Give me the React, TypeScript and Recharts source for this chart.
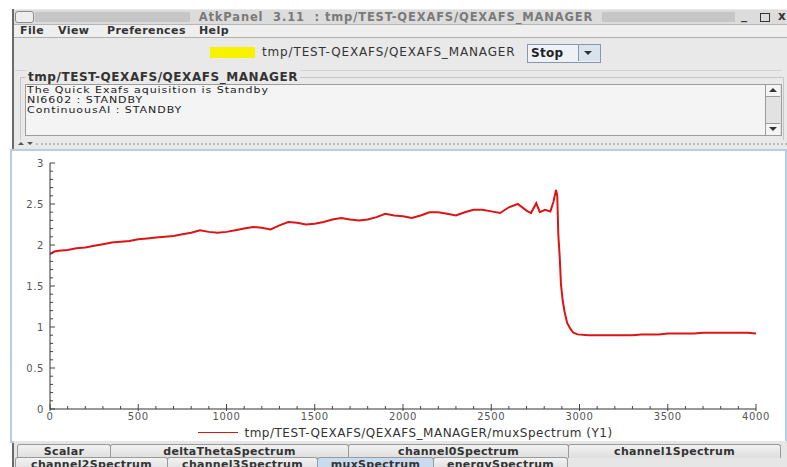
import { LineChart, Line, XAxis, YAxis, Legend } from "recharts";

// channel index along the spectrum (x) and the read-off muxSpectrum values (y)
const channels = [
  0, 25, 50, 100, 150, 200, 250, 300, 350, 400, 450,
  500, 550, 600, 650, 700, 750, 800, 850, 900, 950,
  1000, 1050, 1100, 1150, 1200, 1250, 1300, 1350, 1400, 1450,
  1500, 1550, 1600, 1650, 1700, 1750, 1800, 1850, 1900, 1950,
  2000, 2050, 2100, 2150, 2200, 2250, 2300, 2350, 2400, 2450,
  2500, 2550, 2600, 2650, 2700, 2725, 2755, 2775, 2805, 2835,
  2853, 2867, 2874, 2880, 2888, 2895, 2905, 2915, 2930, 2948,
  2965, 2990, 3050, 3100, 3150, 3200, 3250, 3300, 3350, 3400,
  3450, 3500, 3550, 3600, 3650, 3700, 3750, 3800, 3850, 3900,
  3950, 4000,
];

const muxSpectrum = [
  1.89, 1.92, 1.93, 1.94, 1.96, 1.97, 1.99, 2.01, 2.03, 2.04, 2.05,
  2.07, 2.08, 2.09, 2.1, 2.11, 2.13, 2.15, 2.18, 2.16, 2.15,
  2.16, 2.18, 2.2, 2.22, 2.21, 2.19, 2.24, 2.28, 2.27, 2.25,
  2.26, 2.28, 2.31, 2.33, 2.31, 2.3, 2.31, 2.34, 2.38, 2.36,
  2.35, 2.33, 2.36, 2.4, 2.4, 2.38, 2.36, 2.4, 2.43, 2.43,
  2.41, 2.39, 2.46, 2.5, 2.42, 2.39, 2.51, 2.4, 2.43, 2.41,
  2.53, 2.67, 2.6, 2.12, 1.85, 1.52, 1.32, 1.19, 1.05, 0.98,
  0.93, 0.91, 0.9, 0.9, 0.9, 0.9, 0.9, 0.9, 0.91, 0.91,
  0.91, 0.92, 0.92, 0.92, 0.92, 0.93, 0.93, 0.93, 0.93, 0.93,
  0.93, 0.92,
];

const xTicks = [
  0, 100, 200, 300, 400, 500, 600, 700, 800, 900, 1000, 1100, 1200, 1300,
  1400, 1500, 1600, 1700, 1800, 1900, 2000, 2100, 2200, 2300, 2400, 2500,
  2600, 2700, 2800, 2900, 3000, 3100, 3200, 3300, 3400, 3500, 3600, 3700,
  3800, 3900, 4000,
];

const yTicks = [
  0, 0.1, 0.2, 0.3, 0.4, 0.5, 0.6, 0.7, 0.8, 0.9, 1, 1.1, 1.2, 1.3, 1.4,
  1.5, 1.6, 1.7, 1.8, 1.9, 2, 2.1, 2.2, 2.3, 2.4, 2.5, 2.6, 2.7, 2.8, 2.9, 3,
];

const seriesName = "tmp/TEST-QEXAFS/QEXAFS_MANAGER/muxSpectrum (Y1)";
const deviceName = "tmp/TEST-QEXAFS/QEXAFS_MANAGER";
const statusLines = [
  "The Quick Exafs aquisition is Standby",
  "NI6602 : STANDBY",
  "ContinuousAI : STANDBY",
];

const tabsTop = [
  { label: "Scalar", left: 17, width: 93 },
  { label: "deltaThetaSpectrum", left: 110, width: 238 },
  { label: "channel0Spectrum", left: 348, width: 220 },
  { label: "channel1Spectrum", left: 568, width: 212 },
];
const tabsBottom = [
  { label: "channel2Spectrum", left: 15, width: 152 },
  { label: "channel3Spectrum", left: 167, width: 150 },
  { label: "muxSpectrum", left: 317, width: 116, active: true },
  { label: "energySpectrum", left: 433, width: 134 },
];

const data = channels.map((c, i) => ({ channel: c, mux: muxSpectrum[i] }));

const FONT = '"DejaVu Sans", sans-serif';
const isMajorX = (v: number) => v % 500 === 0;
const isMajorY = (v: number) => Math.abs(v * 2 - Math.round(v * 2)) < 1e-6;

function BottomTick(props: any) {
  const { x, y, payload } = props;
  const major = isMajorX(payload.value);
  return (
    <g>
      <line x1={x} x2={x} y1={y + (major ? 2 : 0)} y2={y - (major ? 5 : 3)} stroke="#444" />
      {major && (
        <text x={x} y={y + 11} textAnchor="middle" fontSize={10} fill="#555" fontFamily={FONT} letterSpacing={0.6}>
          {payload.value}
        </text>
      )}
    </g>
  );
}

function TopTick(props: any) {
  const { x, y, payload } = props;
  const major = isMajorX(payload.value);
  return <line x1={x} x2={x} y1={y} y2={y + (major ? 5 : 2)} stroke="#666" />;
}

function LeftTick(props: any) {
  const { x, y, payload } = props;
  const major = isMajorY(payload.value);
  return (
    <g>
      <line x1={x} x2={x + (major ? 5 : 3)} y1={y} y2={y} stroke="#444" />
      {major && (
        <text x={x - 6} y={y + 4} textAnchor="end" fontSize={10} fill="#555" fontFamily={FONT} letterSpacing={0.6}>
          {String(payload.value)}
        </text>
      )}
    </g>
  );
}

function RightTick(props: any) {
  const { x, y, payload } = props;
  const major = isMajorY(payload.value);
  return <line x1={x} x2={x - (major ? 5 : 2)} y1={y} y2={y} stroke="#666" />;
}

function LegendContent(props: any) {
  const item = props.payload?.[0];
  if (!item) return null;
  return (
    <div style={{ display: "flex", justifyContent: "center", alignItems: "center", height: 15, paddingLeft: 40 }}>
      <span style={{ width: 40, height: 1, background: item.color, marginRight: 6 }} />
      <span style={{ fontSize: 12, color: "#333", fontFamily: FONT, letterSpacing: 0.5 }}>{item.value}</span>
    </div>
  );
}

function Tab({ label, left, width, top, height, active }: any) {
  return (
    <div
      style={{
        position: "absolute",
        left,
        top,
        width: width - 1,
        height,
        background: active ? "#c9dbef" : "linear-gradient(#f2f2f2, #dedede)",
        border: "1px solid #9a9a9a",
        borderBottom: "none",
        borderRadius: "3px 3px 0 0",
        fontSize: 11,
        fontWeight: "bold",
        color: "#333",
        textAlign: "center",
        lineHeight: `${height}px`,
        letterSpacing: 0.3,
        overflow: "hidden",
      }}
    >
      {label}
    </div>
  );
}

export default function App() {
  return (
    <div
      style={{
        position: "absolute",
        left: 0,
        top: 0,
        width: 787,
        height: 467,
        background: "#fff",
        overflow: "hidden",
        fontFamily: FONT,
      }}
    >
      {/* window body */}
      <div style={{ position: "absolute", left: 12, top: 9, width: 775, height: 458, background: "#e9e9e9", borderLeft: "2px solid #6a6a6a" }} />

      {/* title bar */}
      <div style={{ position: "absolute", left: 14, top: 10, width: 773, height: 14, background: "#dcdcdc", borderBottom: "1px solid #b5b5b5" }} />
      <div style={{ position: "absolute", left: 15, top: 11, width: 17, height: 10, border: "1px solid #8c8c8c", borderRadius: 3, background: "#eee" }} />
      <div style={{ position: "absolute", left: 35, top: 12, width: 155, height: 10, background: "#c6c6c6" }} />
      <div style={{ position: "absolute", left: 602, top: 12, width: 133, height: 10, background: "#c6c6c6" }} />
      <div style={{ position: "absolute", left: 190, top: 10, width: 412, height: 14, lineHeight: "14px", textAlign: "center", fontSize: 11.5, fontWeight: "bold", color: "#7a7a7a", letterSpacing: 0.85, whiteSpace: "pre" }}>
        {"AtkPanel  3.11  : " + deviceName}
      </div>
      <div style={{ position: "absolute", left: 741, top: 8, fontSize: 12, fontWeight: "bold", color: "#333" }}>_</div>
      <div style={{ position: "absolute", left: 760, top: 13, width: 8, height: 7, border: "1.5px solid #333" }} />
      <div style={{ position: "absolute", left: 778, top: 9, fontSize: 12, fontWeight: "bold", color: "#333" }}>x</div>

      {/* menu bar */}
      <div style={{ position: "absolute", left: 14, top: 25, width: 773, height: 12, background: "#efefef", borderBottom: "1px solid #b0b0b0" }} />
      {[
        ["File", 20],
        ["View", 58],
        ["Preferences", 107],
        ["Help", 199],
      ].map(([t, l]) => (
        <div key={t as string} style={{ position: "absolute", left: l as number, top: 24, fontSize: 11, fontWeight: "bold", color: "#333", letterSpacing: 0.4, lineHeight: "13px" }}>
          {t}
        </div>
      ))}

      {/* toolbar */}
      <div style={{ position: "absolute", left: 210, top: 47, width: 45, height: 11, background: "#f7f200" }} />
      <div style={{ position: "absolute", left: 262, top: 45, fontSize: 12, color: "#333", letterSpacing: 0.85, lineHeight: "15px" }}>{deviceName}</div>
      <div style={{ position: "absolute", left: 527, top: 44, width: 72, height: 17, border: "1px solid #8797ad", background: "#eef2f7" }} />
      <div style={{ position: "absolute", left: 531, top: 45, fontSize: 12, fontWeight: "bold", color: "#222", lineHeight: "16px", letterSpacing: 0.3 }}>Stop</div>
      <div style={{ position: "absolute", left: 578, top: 45, width: 21, height: 16, background: "#d9e3ee", borderLeft: "1px solid #8797ad" }} />
      <div style={{ position: "absolute", left: 584, top: 51, width: 0, height: 0, borderLeft: "4px solid transparent", borderRight: "4px solid transparent", borderTop: "4px solid #333" }} />
      <div style={{ position: "absolute", left: 15, top: 70, width: 766, height: 1, background: "#d2d2d2" }} />

      {/* status group */}
      <div style={{ position: "absolute", left: 20, top: 77, width: 762, height: 62, border: "1px solid #c6c6c6", borderBottom: "none" }} />
      <div style={{ position: "absolute", left: 26, top: 70, padding: "0 2px", background: "#e9e9e9", fontSize: 12, fontWeight: "bold", color: "#333", letterSpacing: 0.55, lineHeight: "14px" }}>
        {deviceName}
      </div>
      <div style={{ position: "absolute", left: 25, top: 84, width: 739, height: 50, background: "#f4f4f4", border: "1px solid #9c9c9c" }} />
      {statusLines.map((s, i) => (
        <div
          key={s}
          style={{
            position: "absolute",
            left: 27,
            top: 86 + i * 10,
            fontSize: 11,
            color: "#222",
            height: 12,
            lineHeight: "12px",
            letterSpacing: 0.95,
            whiteSpace: "nowrap",
            transform: "scaleY(0.82)",
            transformOrigin: "left top",
          }}
        >
          {s}
        </div>
      ))}
      <div style={{ position: "absolute", left: 765, top: 84, width: 15, height: 50, background: "#e2e2e2", border: "1px solid #9c9c9c" }} />
      <div style={{ position: "absolute", left: 766, top: 85, width: 14, height: 11, background: "#f4f4f4", borderBottom: "1px solid #9c9c9c" }} />
      <div style={{ position: "absolute", left: 769, top: 88, width: 0, height: 0, borderLeft: "4px solid transparent", borderRight: "4px solid transparent", borderBottom: "4px solid #333" }} />
      <div style={{ position: "absolute", left: 766, top: 123, width: 14, height: 11, background: "#f4f4f4", borderTop: "1px solid #9c9c9c" }} />
      <div style={{ position: "absolute", left: 769, top: 127, width: 0, height: 0, borderLeft: "4px solid transparent", borderRight: "4px solid transparent", borderTop: "4px solid #333" }} />

      {/* splitter */}
      <div style={{ position: "absolute", left: 18, top: 142, width: 0, height: 0, borderLeft: "3px solid transparent", borderRight: "3px solid transparent", borderBottom: "3px solid #555" }} />
      <div style={{ position: "absolute", left: 27, top: 142, width: 0, height: 0, borderLeft: "3px solid transparent", borderRight: "3px solid transparent", borderTop: "3px solid #555" }} />
      <div style={{ position: "absolute", left: 36, top: 143, width: 751, height: 0, borderTop: "2px dotted #bdbdbd" }} />

      {/* chart panel */}
      <div style={{ position: "absolute", left: 10, top: 149, width: 773, height: 290, border: "2px solid #b8cde5", background: "#fff" }} />
      <div style={{ position: "absolute", left: 15, top: 153 }}>
        <LineChart width={768} height={287} data={data} margin={{ top: 10, right: 27, bottom: 0, left: 0 }}>
          <XAxis
            xAxisId="b"
            dataKey="channel"
            type="number"
            domain={[0, 4000]}
            allowDataOverflow
            ticks={xTicks}
            interval={0}
            tickSize={0}
            tickMargin={0}
            tickLine={false}
            tick={(p: any) => <BottomTick {...p} />}
            axisLine={{ stroke: "#333" }}
            height={16}
          />
          <XAxis
            xAxisId="t"
            orientation="top"
            dataKey="channel"
            type="number"
            domain={[0, 4000]}
            allowDataOverflow
            ticks={xTicks}
            interval={0}
            tickSize={0}
            tickMargin={0}
            tickLine={false}
            tick={(p: any) => <TopTick {...p} />}
            axisLine={{ stroke: "#8a8a8a" }}
            height={0}
          />
          <YAxis
            yAxisId="l"
            type="number"
            domain={[0, 3]}
            allowDataOverflow
            ticks={yTicks}
            interval={0}
            tickSize={0}
            tickMargin={0}
            tickLine={false}
            tick={(p: any) => <LeftTick {...p} />}
            axisLine={{ stroke: "#333" }}
            width={35}
          />
          <YAxis
            yAxisId="r"
            orientation="right"
            type="number"
            domain={[0, 3]}
            allowDataOverflow
            ticks={yTicks}
            interval={0}
            tickSize={0}
            tickMargin={0}
            tickLine={false}
            tick={(p: any) => <RightTick {...p} />}
            axisLine={{ stroke: "#8a8a8a" }}
            width={0}
          />
          <Legend verticalAlign="bottom" height={15} content={(p: any) => <LegendContent {...p} />} />
          <Line
            xAxisId="b"
            yAxisId="l"
            name={seriesName}
            type="linear"
            dataKey="mux"
            stroke="#dc1414"
            strokeWidth={2}
            dot={false}
            isAnimationActive={false}
          />
        </LineChart>
      </div>

      {/* tabs */}
      <div style={{ position: "absolute", left: 14, top: 441, width: 773, height: 26, background: "#e6e6e6" }} />
      {tabsTop.map((t) => (
        <Tab key={t.label} {...t} top={444} height={13} />
      ))}
      {tabsBottom.map((t) => (
        <Tab key={t.label} {...t} top={457} height={13} />
      ))}
    </div>
  );
}
